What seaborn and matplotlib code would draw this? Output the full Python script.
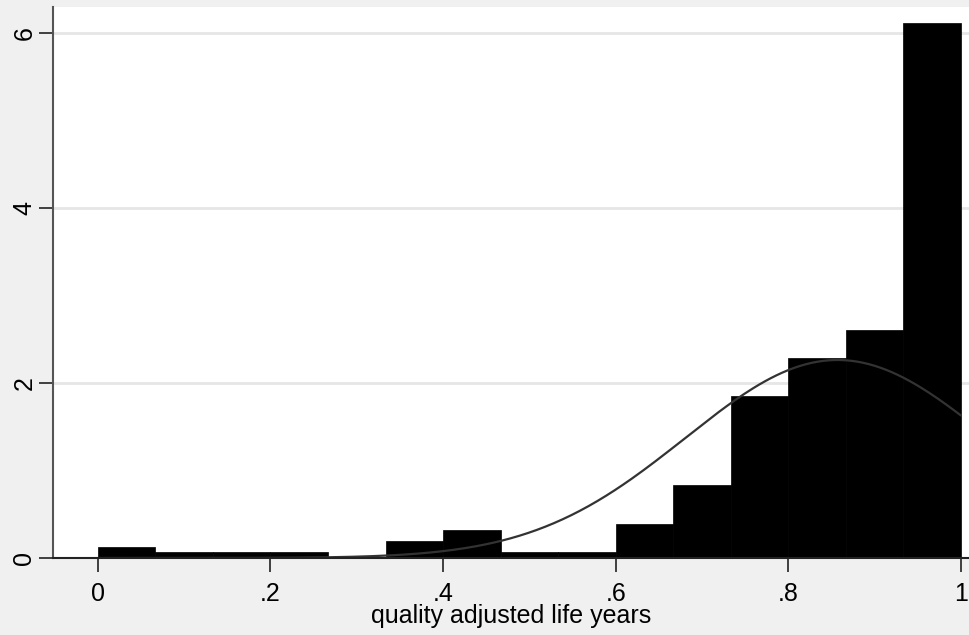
import numpy as np
import pandas as pd
import matplotlib
matplotlib.use("Agg")
import matplotlib.pyplot as plt
import seaborn as sns

# histogram: 15 equal bins on [0, 1], heights are densities
bin_edges = [i / 15 for i in range(16)]
bin_density = [0.126, 0.065, 0.065, 0.065, 0.0, 0.198, 0.32, 0.065, 0.065,
               0.385, 0.834, 1.85, 2.29, 2.61, 6.11]

# normal overlay (Stata "normal" option)
norm_mean = 0.857
norm_sd = 0.1763

y_ticks = [0, 2, 4, 6]
x_ticks = [0, 0.2, 0.4, 0.6, 0.8, 1.0]
x_tick_labels = ["0", ".2", ".4", ".6", ".8", "1"]

centers = [(bin_edges[i] + bin_edges[i + 1]) / 2 for i in range(15)]
df = pd.DataFrame({"qaly": centers, "dens": bin_density})

xs = np.linspace(0, 1, 300)
curve = pd.DataFrame({
    "x": xs,
    "y": np.exp(-0.5 * ((xs - norm_mean) / norm_sd) ** 2) / (norm_sd * np.sqrt(2 * np.pi)),
})

sns.set_style("white")
plt.rcParams["font.family"] = ["Liberation Sans", "DejaVu Sans"]
plt.rcParams["text.color"] = "black"
plt.rcParams["xtick.color"] = "black"
plt.rcParams["ytick.color"] = "black"
plt.rcParams["axes.labelcolor"] = "black"

fig = plt.figure(figsize=(9.69, 6.35), dpi=100, facecolor="#f0f0f0")
ax = fig.add_axes([53 / 969, 77 / 635, 916 / 969, 551 / 635])
ax.set_facecolor("white")

for t in y_ticks[1:]:
    ax.axhline(t, color="#e6e6e6", lw=2, zorder=0)

sns.histplot(data=df, x="qaly", weights="dens", bins=bin_edges, stat="count",
             color="black", alpha=1, edgecolor="black", linewidth=0.5, ax=ax)
sns.lineplot(data=curve, x="x", y="y", color="#333333", lw=1.6, ax=ax)

ax.set_xlim(-0.052, 1.0093)
ax.set_ylim(0, 6.297)
ax.set_xticks(x_ticks)
ax.set_xticklabels(x_tick_labels, fontsize=18)
ax.set_yticks(y_ticks)
ax.set_yticklabels([str(t) for t in y_ticks], fontsize=18, rotation=90, va="center")
ax.tick_params(axis="both", direction="out", length=10, width=1.2, color="#222222",
               bottom=True, left=True)
ax.tick_params(axis="x", pad=7)
ax.tick_params(axis="y", pad=2)

ax.set_xlabel("quality adjusted life years", fontsize=18, labelpad=-1)
ax.set_ylabel("")

for s in ["top", "right"]:
    ax.spines[s].set_visible(False)
ax.spines["left"].set_color("#555555")
ax.spines["left"].set_linewidth(1.5)
ax.spines["bottom"].set_color("#222222")
ax.spines["bottom"].set_linewidth(1.5)

fig.savefig("out.png", dpi=100, facecolor=fig.get_facecolor())
